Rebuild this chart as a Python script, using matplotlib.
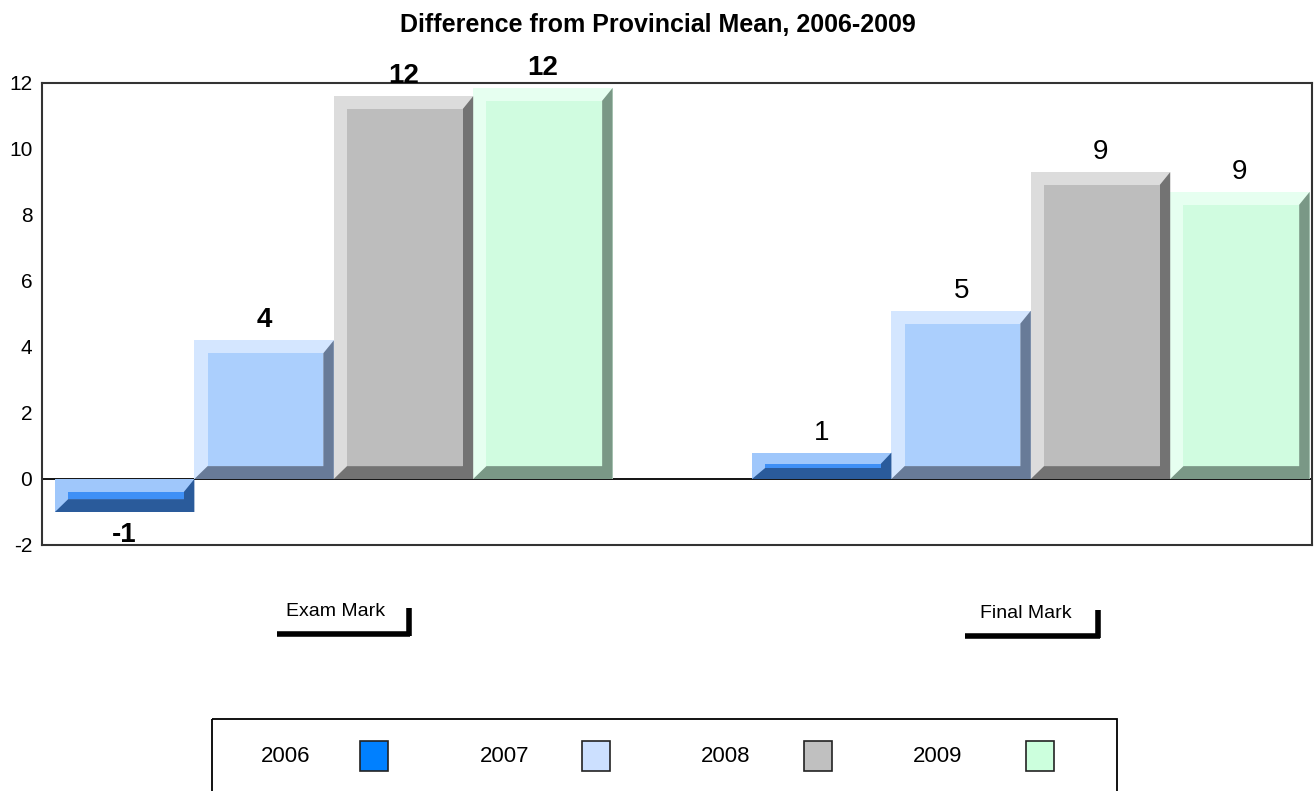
import matplotlib
matplotlib.use("Agg")
import matplotlib.pyplot as plt
from matplotlib.patches import Polygon, Rectangle
from matplotlib.transforms import blended_transform_factory

plt.rcParams['font.family'] = ['Liberation Sans', 'DejaVu Sans']

# ---------------- data ----------------
title = "Difference from Provincial Mean, 2006-2009"
categories = ["Exam Mark", "Final Mark"]
years = ["2006", "2007", "2008", "2009"]
exam_values = [-1.0, 4.2, 11.6, 11.85]
final_values = [0.8, 5.1, 9.3, 8.7]
exam_labels = ["-1", "4", "12", "12"]
final_labels = ["1", "5", "9", "9"]
yticks = [-2, 0, 2, 4, 6, 8, 10, 12]

# ---------------- style ----------------
face_colors = ["#3f90f6", "#abcffd", "#bdbdbd", "#d0fce0"]
light_colors = ["#9fc7fb", "#d4e6ff", "#dcdcdc", "#e6fff0"]
dark_colors = ["#2a5b9b", "#687b98", "#737373", "#7a9886"]
legend_colors = ["#0080ff", "#cce0ff", "#c0c0c0", "#ccffdd"]

W, H = 1315, 791
fig = plt.figure(figsize=(W / 100, H / 100), dpi=100)
ax = fig.add_axes([42 / W, 1 - 545 / H, 1270 / W, 462 / H])

centers = [0.0, 5.0]
offsets = [-1.5, -0.5, 0.5, 1.5]
bxl, bxr, bev_y = 0.095, 0.075, 0.39

groups = [(exam_values, exam_labels, "bold"), (final_values, final_labels, "normal")]
for gi, (vals, labs, fw) in enumerate(groups):
    for j, v in enumerate(vals):
        x = centers[gi] + offsets[j]
        ax.bar(x, v, width=1.0, color=light_colors[j], linewidth=0, zorder=2)
        top, bot = max(v, 0), min(v, 0)
        x0, x1 = x - 0.5, x + 0.5
        byy = min(bev_y, (top - bot) * 0.42)
        dark = Polygon([(x1, top), (x1, bot), (x0, bot), (x0 + bxl, bot + byy),
                        (x1 - bxr, bot + byy), (x1 - bxr, top - byy)],
                       closed=True, facecolor=dark_colors[j], edgecolor="none", zorder=3)
        ax.add_patch(dark)
        ax.add_patch(Rectangle((x0 + bxl, bot + byy), 1 - bxl - bxr, (top - bot) - 2 * byy,
                               facecolor=face_colors[j], edgecolor="none", zorder=4))
        if v >= 0:
            ax.annotate(labs[j], (x, v), xytext=(0, 5), textcoords="offset points",
                        ha="center", va="bottom", fontsize=20, fontweight=fw)
        else:
            ax.annotate(labs[j], (x, v), xytext=(0, -7), textcoords="offset points",
                        ha="center", va="top", fontsize=20, fontweight=fw)

ax.axhline(0, color="black", lw=1.3, zorder=1)
ax.set_xlim(-2.093, 7.017)
ax.set_ylim(-2, 12)
ax.set_yticks(yticks)
ax.set_yticklabels([str(t) for t in yticks], fontsize=15)
ax.tick_params(axis="y", length=0, pad=7)
ax.set_xticks([])
for s in ax.spines.values():
    s.set_color("#333333")
    s.set_linewidth(1.5)

fig.text(0.5, 1 - 25 / H, title, ha="center", va="center", fontsize=18, fontweight="bold")

# category labels with bracket (offsets in bar-width units relative to group center)
trans = blended_transform_factory(ax.transData, fig.transFigure)
cat_text_dx = [0.015, -0.036]
cat_left = [-0.41, -0.474]
cat_right = [0.55, 0.495]
cat_y = [612, 614]
for gi, cat in enumerate(categories):
    c = centers[gi]
    yl = cat_y[gi]
    ax.text(c + cat_text_dx[gi], 1 - yl / H, cat, transform=trans, ha="center", va="center",
            fontsize=14, clip_on=False)
    ax.plot([c + cat_left[gi], c + cat_right[gi]], [1 - (yl + 22) / H, 1 - (yl + 22) / H],
            transform=trans, color="black", lw=4, solid_capstyle="butt", clip_on=False)
    ax.plot([c + cat_right[gi] - 0.014, c + cat_right[gi] - 0.014],
            [1 - (yl - 4) / H, 1 - (yl + 24) / H], transform=trans,
            color="black", lw=4, solid_capstyle="butt", clip_on=False)

# legend (manual, label then swatch)
lax = fig.add_axes([0, 0, 1, 1])
lax.set_xlim(0, W)
lax.set_ylim(H, 0)
lax.axis("off")
lax.add_patch(Rectangle((212, 719), 905, 80, facecolor="none", edgecolor="black", lw=1.3))
text_x = [286, 505, 726, 938]
sw_x = [360, 582, 804, 1026]
for k, yr in enumerate(years):
    lax.text(text_x[k], 756, yr, ha="center", va="center", fontsize=16)
    lax.add_patch(Rectangle((sw_x[k], 741), 28, 30, facecolor=legend_colors[k],
                            edgecolor="#222222", lw=1.2))

fig.savefig("out.png", dpi=100)
